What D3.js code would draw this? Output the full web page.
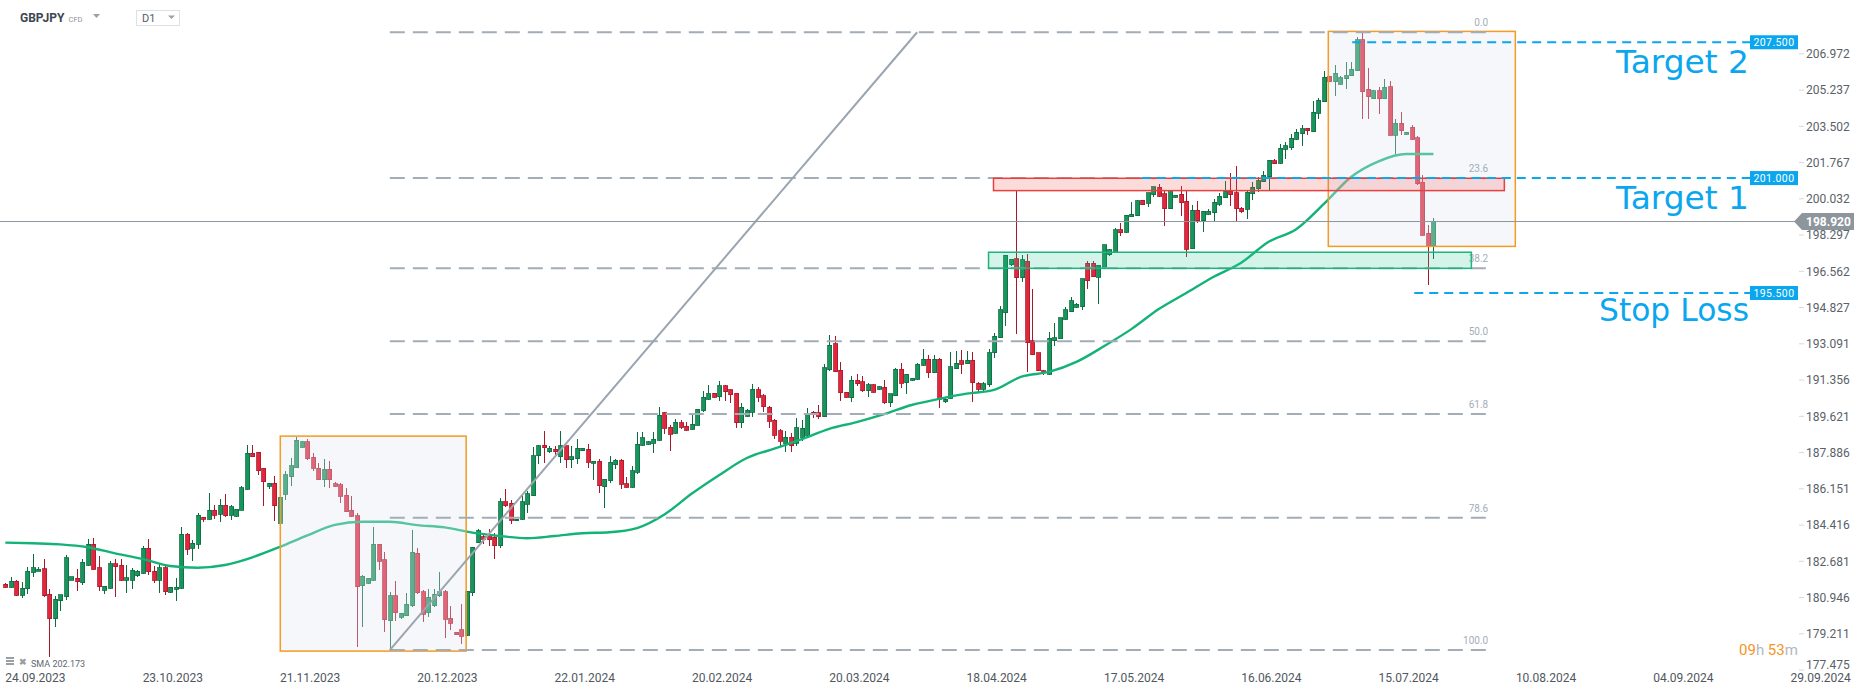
<!DOCTYPE html>
<html><head><meta charset="utf-8">
<script src="https://cdn.jsdelivr.net/npm/d3@7"></script>
<style>
html,body{margin:0;padding:0;background:#fff;overflow:hidden}
svg{display:block;font-family:Roboto,"Noto Sans",sans-serif}
</style></head><body>
<svg id="c" width="1866" height="695"></svg>
<script>
// ---------- DATA ----------
const dateLabels = ["24.09.2023","23.10.2023","21.11.2023","20.12.2023","22.01.2024","20.02.2024","20.03.2024","18.04.2024","17.05.2024","16.06.2024","15.07.2024","10.08.2024","04.09.2024","29.09.2024"];
const dateLabelBars = [0,25,50,75,100,125,150,175,200,225,250,275,300,325];
const yTickLabels = ["177.475","179.211","180.946","182.681","184.416","186.151","187.886","189.621","191.356","193.091","194.827","196.562","198.297","200.032","201.767","203.502","205.237","206.972"];

const open = [181.56,181.41,181.71,181.03,181.35,182.13,182.18,182.29,181.09,179.91,180.77,180.97,181.75,181.84,181.63,182.48,183.47,182.34,181.27,181.36,182.53,182.48,181.75,181.75,181.97,182.08,183.28,182.19,181.75,182.34,181.17,181.32,181.36,183.96,183.28,183.47,184.76,184.67,185.11,184.91,185.34,184.86,184.81,185.10,186.10,
187.84,187.87,187.11,186.25,186.39,184.47,185.86,186.71,187.14,188.11,188.37,187.63,187.11,186.56,187.06,186.36,186.31,185.83,185.11,184.84,181.49,181.60,181.76,183.47,182.72,179.82,181.00,179.98,180.06,180.53,183.04,181.20,180.20,180.53,181.01,181.20,179.93,179.27,179.37,179.13,181.16,183.55,183.84,183.95,183.81,
183.41,185.51,185.43,184.62,184.67,185.38,185.80,187.70,188.21,187.91,188.03,187.67,188.18,187.51,187.57,187.94,188.02,187.35,187.44,186.23,186.52,187.28,187.49,186.36,186.20,186.93,188.21,188.26,188.30,188.45,189.76,189.07,188.78,189.29,189.13,188.97,189.17,189.87,190.41,190.71,190.54,191.05,190.87,
190.70,189.29,189.60,189.80,190.86,190.57,190.03,189.42,188.90,188.30,188.60,188.30,188.60,188.70,189.80,189.77,189.58,191.83,193.06,191.81,190.75,190.49,191.33,191.24,190.82,191.11,190.89,190.98,190.25,190.59,191.86,191.21,191.32,191.37,192.04,192.34,191.69,192.34,190.30,190.46,191.88,192.26,192.12,192.28,
191.18,190.89,191.10,192.64,193.36,194.56,196.86,197.13,196.23,197.03,193.22,192.64,191.78,191.61,193.22,193.31,194.24,194.61,194.81,194.85,196.92,196.92,196.25,196.73,197.32,197.45,198.52,198.40,199.15,199.20,199.94,199.79,200.19,200.56,200.24,199.54,200.08,200.22,199.90,197.61,199.47,198.96,199.26,199.34,
199.74,200.06,200.38,200.29,199.55,199.50,200.24,200.48,200.83,201.07,201.82,201.70,202.38,202.45,202.85,203.13,203.38,203.22,204.10,204.66,205.87,205.61,205.49,205.76,205.90,206.14,207.61,205.25,204.80,205.17,204.80,205.36,203.06,203.62,203.09,203.44,202.92,200.81,198.37,197.75];
const high = [181.60,181.91,181.75,181.65,182.40,183.01,182.40,182.77,181.33,181.00,181.05,182.96,181.92,182.29,182.77,183.74,183.77,182.91,181.46,182.69,182.77,182.77,182.48,182.34,182.24,183.39,183.72,182.43,182.59,182.48,181.44,181.86,184.30,184.03,183.68,184.97,184.76,185.94,185.37,185.64,185.88,185.34,185.16,186.26,188.22,
188.22,187.90,187.11,186.42,186.74,186.07,186.98,187.62,188.62,188.42,188.51,187.84,187.35,187.54,187.44,186.47,186.39,186.15,185.77,184.97,182.00,181.87,184.28,183.49,183.10,181.19,181.72,180.20,181.12,184.16,183.31,181.28,181.32,181.32,182.13,181.28,180.52,179.29,180.61,181.25,183.36,184.22,184.00,184.20,184.00,
185.70,186.10,185.59,184.70,185.88,186.04,188.14,188.22,188.89,188.18,188.18,188.89,188.18,188.18,188.51,188.10,188.27,187.44,187.54,186.58,187.70,187.54,187.54,186.71,187.23,188.86,188.85,188.40,188.83,190.03,189.80,189.18,189.47,189.42,189.32,189.68,189.95,190.81,191.10,190.73,191.27,191.08,190.91,
190.73,190.25,189.95,191.13,190.98,190.65,190.09,189.45,189.00,188.90,188.80,189.52,189.42,190.00,189.84,190.12,192.10,193.47,193.44,192.18,190.78,191.54,191.62,191.53,191.19,191.13,191.05,191.33,190.67,191.91,192.13,191.62,191.45,192.13,192.82,192.55,192.55,192.37,190.45,192.68,192.72,192.79,192.74,192.68,
191.25,191.25,192.82,193.60,194.88,197.30,197.15,200.40,197.33,197.37,195.69,192.64,191.81,193.65,194.08,194.32,194.85,195.32,195.00,196.19,197.03,197.03,196.84,197.80,197.59,198.59,198.83,199.22,199.87,199.97,199.94,200.30,200.59,200.73,200.40,200.43,200.19,200.61,200.40,199.70,199.90,199.42,199.50,200.00,
200.30,200.88,201.23,201.58,199.60,200.40,200.80,201.04,201.35,201.85,201.91,202.61,202.74,203.11,203.35,203.54,203.38,204.69,204.82,206.12,205.90,206.41,205.89,206.57,206.54,207.77,207.93,206.25,205.20,205.37,205.74,205.65,203.83,204.16,203.22,203.54,203.01,201.15,198.74,199.09];
const low = [181.38,181.38,181.00,180.89,181.09,181.89,182.18,180.97,178.09,179.53,180.29,180.82,181.75,181.25,181.52,182.45,182.24,181.25,181.08,181.35,180.97,181.73,181.16,181.32,181.92,182.05,182.00,181.63,181.12,181.03,181.16,180.77,181.32,182.94,182.69,183.23,184.54,184.64,184.67,184.52,184.79,184.62,184.79,185.10,186.07,
187.63,186.79,185.30,186.10,184.60,184.44,185.59,186.28,187.11,188.10,187.51,187.00,186.56,186.23,186.18,186.23,185.46,185.02,184.79,178.57,179.53,181.57,181.73,182.24,179.29,178.41,179.80,179.88,180.04,180.49,181.08,179.77,180.01,180.49,180.96,179.00,179.37,179.13,178.70,179.08,181.01,183.52,183.49,183.39,182.75,
183.30,185.28,184.44,184.60,184.63,184.95,185.78,187.30,187.38,187.83,187.76,187.35,187.11,187.14,187.32,187.93,187.12,186.55,185.94,185.22,186.42,187.09,186.13,186.18,186.18,186.84,188.18,188.24,187.86,188.43,188.73,187.95,188.77,189.01,188.89,188.95,189.15,189.82,190.39,190.49,190.33,190.33,190.25,
189.02,189.02,189.55,189.58,190.30,189.79,189.02,188.50,188.20,187.90,187.90,188.20,188.40,188.60,189.50,189.47,189.55,191.78,191.70,190.35,190.48,190.30,191.06,190.75,190.54,190.70,190.86,190.17,190.03,190.57,190.97,190.65,191.30,191.33,192.02,191.45,191.66,189.98,190.25,190.43,191.85,191.64,192.09,190.30,
190.70,190.75,191.02,192.40,193.33,193.94,196.80,193.55,196.03,191.74,192.52,191.76,191.58,191.58,192.96,193.28,194.21,194.58,194.78,194.69,195.71,196.25,194.99,196.70,197.29,197.40,198.24,198.37,199.12,199.17,199.70,199.63,200.11,200.11,198.71,199.50,200.06,199.20,197.21,197.59,198.83,198.40,199.23,198.90,
199.66,200.03,199.66,198.90,199.35,199.04,199.95,200.35,200.80,200.43,201.66,201.67,201.93,202.34,202.82,202.55,203.06,203.19,203.83,204.63,205.58,204.94,205.45,205.26,205.87,206.11,203.81,203.81,204.78,204.08,204.77,203.01,202.07,203.06,203.06,202.82,200.67,198.24,195.87,197.14];
const close = [181.41,181.71,181.03,181.36,182.19,182.34,182.27,181.01,179.91,180.85,181.05,182.82,181.91,181.68,182.62,183.47,182.27,181.44,181.46,182.53,182.40,181.75,181.86,182.23,182.19,183.28,182.16,181.75,182.34,181.20,181.41,181.41,183.95,183.23,183.53,184.86,184.67,185.10,184.86,185.34,184.83,185.26,185.16,186.17,187.84,
187.67,187.00,186.47,186.39,185.32,185.72,186.79,187.22,188.46,188.37,187.57,187.11,186.56,187.06,186.56,186.25,185.77,185.03,184.81,181.44,181.95,181.84,183.47,182.67,179.85,181.00,180.20,180.17,180.61,183.09,181.16,180.12,180.93,181.09,181.20,179.88,179.69,179.15,179.08,181.22,183.33,184.12,183.71,183.68,183.41,
185.51,185.32,184.63,184.68,185.50,185.88,187.70,188.18,188.10,188.08,187.91,188.18,187.51,187.65,188.08,188.08,187.40,187.44,186.28,186.58,187.40,187.49,186.34,186.20,186.99,188.26,188.57,188.37,188.50,189.64,189.02,188.75,189.32,189.07,188.94,189.21,189.93,190.51,190.67,190.51,191.05,190.78,190.63,
189.29,190.03,189.88,190.89,190.50,190.06,189.36,188.70,188.40,188.60,188.20,189.05,189.02,189.74,189.66,189.58,191.91,192.99,191.73,190.73,190.50,191.33,191.16,190.82,191.10,190.76,191.02,190.25,190.67,191.86,191.19,191.62,191.42,192.10,192.34,191.69,192.34,190.41,190.41,191.96,192.13,192.10,192.28,191.21,
190.89,191.15,192.63,193.44,194.69,197.30,197.11,196.23,197.08,193.12,192.55,191.78,191.69,193.33,193.35,194.32,194.69,195.12,194.97,196.19,196.09,196.28,196.82,197.80,197.56,198.52,198.39,199.22,199.26,199.92,199.73,200.30,200.59,200.13,199.54,200.40,200.17,199.82,197.59,199.47,198.96,199.42,199.42,199.84,
200.14,200.38,200.21,199.54,199.39,200.32,200.57,200.88,201.13,201.85,201.69,202.42,202.55,202.90,203.19,203.35,203.27,204.15,204.72,205.82,205.61,206.01,205.79,205.89,206.20,207.61,205.14,204.90,205.17,204.80,205.34,203.06,203.62,203.27,203.19,202.85,200.73,198.27,197.75,198.92];

const smaBars = [0,5,10,15,20,25,30,35,40,45,50,55,60,65,70,75,80,85,90,95,100,105,110,115,120,125,130,135,140,145,150,155,160,165,170,175,180,185,190,195,200,205,210,215,220,225,230,235,240,245,250,255,260];
const smaValues = [183.55,183.52,183.47,183.33,183.04,182.77,182.43,182.35,182.48,182.85,183.35,183.90,184.40,184.55,184.55,184.39,184.28,184.03,183.87,183.76,183.87,184.00,184.05,184.25,184.90,185.90,186.79,187.60,188.05,188.50,189.00,189.32,189.70,190.14,190.43,190.68,190.86,191.50,191.72,192.20,192.95,193.77,194.73,195.50,196.28,196.95,197.95,198.55,199.75,201.05,201.80,202.15,202.15];

const fibLevels = ["0.0","23.6","38.2","50.0","61.8","78.6","100.0"];
const fibRatios = [0,0.236,0.382,0.5,0.618,0.786,1];
const fibLowPrice = 178.41, fibHighPrice = 207.98;
const fibStartBar = 70, fibTopBar = 166, fibEndBar = 269.6;

const boxBars = [[50.06,83.9],[240.85,274.9]];
const boxPrices = [[178.36,188.65],[197.73,208.02]];
const zoneBars = [[179.9,272.9],[179.0,266.9]];
const zonePrices = [[200.40,200.99],[196.68,197.45]];

const targetNames = ["Target 2","Target 1","Stop Loss"];
const targetPrices = [207.5,201.0,195.5];
const targetStartBars = [245.2,206.9,256.5];
const lastPrice = 198.92;
const smaLabel = "SMA 202.173";

// ---------- SCALES ----------
const svg = d3.select("#c");
const x = d3.scaleLinear().domain([0,325]).range([5.3, 5.3+325*5.493]);
const y = d3.scaleLinear().domain([177.455,209.523]).range([670,0]);

const bars = open.map((o,i)=>({i,o,h:high[i],l:low[i],c:close[i]}));
const UP = "#17955c", UPD = "#0c6a3f", DN = "#e2263c", DND = "#a8182a";

// candles
const cg = svg.append("g").attr("shape-rendering","crispEdges");
cg.selectAll("line.w").data(bars).join("line")
  .attr("x1",d=>Math.round(x(d.i))+0.5).attr("x2",d=>Math.round(x(d.i))+0.5)
  .attr("y1",d=>y(d.h)).attr("y2",d=>y(d.l))
  .attr("stroke",d=>d.c>=d.o?UPD:DND).attr("stroke-width",1);
cg.selectAll("rect.b").data(bars).join("rect")
  .attr("x",d=>Math.round(x(d.i))-1.5).attr("width",4)
  .attr("y",d=>y(Math.max(d.o,d.c)))
  .attr("height",d=>Math.max(1.5,Math.abs(y(d.o)-y(d.c))))
  .attr("fill",d=>d.c>=d.o?UP:DN)
  .attr("stroke",d=>d.c>=d.o?UPD:DND).attr("stroke-width",0.8);

// SMA
svg.append("path").datum(smaBars.map((b,k)=>[b,smaValues[k]]))
  .attr("fill","none").attr("stroke","#13b377").attr("stroke-width",2.4)
  .attr("d",d3.line().x(d=>x(d[0])).y(d=>y(d[1])).curve(d3.curveMonotoneX));

// boxes (semi-transparent overlays)
boxBars.forEach((b,k)=>{
  svg.append("rect").attr("x",x(b[0])).attr("width",x(b[1])-x(b[0]))
    .attr("y",y(boxPrices[k][1])).attr("height",y(boxPrices[k][0])-y(boxPrices[k][1]))
    .attr("fill","rgba(226,231,239,0.33)").attr("stroke","#f59a23").attr("stroke-width",1.5);
});

// fibonacci
const fibG = svg.append("g");
fibRatios.forEach((r,k)=>{
  const p = fibHighPrice - r*(fibHighPrice-fibLowPrice);
  fibG.append("line").attr("x1",x(fibStartBar)).attr("x2",x(fibEndBar))
    .attr("y1",y(p)).attr("y2",y(p))
    .attr("stroke","#a3adb7").attr("stroke-width",2).attr("stroke-dasharray","15,8");
  fibG.append("text").attr("x",x(fibEndBar)+2).attr("y",y(p)-6)
    .attr("text-anchor","end").attr("font-size",10).attr("fill","#a3adb7").text(fibLevels[k]);
});
fibG.append("line").attr("x1",x(fibStartBar)).attr("y1",y(fibLowPrice))
  .attr("x2",x(fibTopBar)).attr("y2",y(fibHighPrice))
  .attr("stroke","#9aa5b0").attr("stroke-width",2);

// zones
const zoneFill = ["rgba(240,90,90,0.22)","rgba(40,200,150,0.2)"];
const zoneStroke = ["#e8403f","#1db57e"];
zoneBars.forEach((b,k)=>{
  svg.append("rect").attr("x",x(b[0])).attr("width",x(b[1])-x(b[0]))
    .attr("y",y(zonePrices[k][1])).attr("height",y(zonePrices[k][0])-y(zonePrices[k][1]))
    .attr("fill",zoneFill[k]).attr("stroke",zoneStroke[k]).attr("stroke-width",1.5);
});

// last price line
svg.append("line").attr("x1",0).attr("x2",1795).attr("y1",y(lastPrice)).attr("y2",y(lastPrice))
  .attr("stroke","#8e979e").attr("stroke-width",1);

// targets
const BLUE = "#0aa6ee";
const targetTextWidths = [133,133,150];
targetPrices.forEach((p,k)=>{
  const yy = y(p);
  svg.append("line").attr("x1",x(targetStartBars[k])).attr("x2",1750).attr("y1",yy).attr("y2",yy)
    .attr("stroke",BLUE).attr("stroke-width",2).attr("stroke-dasharray","9,6");
  svg.append("rect").attr("x",1750).attr("y",yy-7).attr("width",48).attr("height",14).attr("fill",BLUE);
  svg.append("text").attr("x",1774).attr("y",yy+4).attr("text-anchor","middle")
    .attr("font-size",10.5).attr("fill","#fff").attr("letter-spacing",0.4).text(d3.format(".3f")(p));
  svg.append("text").attr("x",1749).attr("y",yy+(k==2?28:30.5)).attr("text-anchor","end")
    .attr("font-family","DejaVu Sans").attr("font-size",31.5).attr("fill",BLUE)
    .attr("textLength",targetTextWidths[k]).attr("lengthAdjust","spacingAndGlyphs").text(targetNames[k]);
});

// y axis
const yAxis = d3.axisRight(y).tickValues(yTickLabels.map(Number)).tickFormat(d3.format(".3f"))
  .tickSize(5).tickPadding(2);
const ya = svg.append("g").attr("transform","translate(1799,0)").call(yAxis);
ya.select(".domain").remove();
ya.selectAll("line").attr("stroke","#d5d8db");
ya.selectAll("text").attr("font-size",12).attr("fill","#5a6168").attr("font-family","Roboto")
  .attr("dy","0.36em");
ya.selectAll(".tick").filter(d=>d<178).select("text").attr("y",-5);

// last price tag
const ly = y(lastPrice);
svg.append("path").attr("d",`M1794,${ly} L1802,${ly-8.5} L1854,${ly-8.5} L1854,${ly+8.5} L1802,${ly+8.5} Z`)
  .attr("fill","#8d969d");
svg.append("text").attr("x",1806).attr("y",ly+4.5).attr("font-size",12).attr("font-weight","bold")
  .attr("fill","#fff").text(d3.format(".3f")(lastPrice));

// x axis
const xAxis = d3.axisBottom(x).tickValues(dateLabelBars).tickFormat((d,i)=>dateLabels[i]).tickSize(0).tickPadding(0);
const xa = svg.append("g").attr("transform","translate(0,672)").call(xAxis);
xa.select(".domain").remove();
xa.selectAll("text").attr("text-anchor","start").attr("dx",-0.5).attr("dy","0.8em")
  .attr("font-size",12).attr("fill","#50575e").attr("font-family","Roboto");

// header
svg.append("text").attr("x",20).attr("y",22).attr("font-size",12).attr("font-weight","bold").attr("fill","#3c4650").text("GBPJPY");
svg.append("text").attr("x",68.5).attr("y",22).attr("font-size",7.5).attr("fill","#8c939a").text("CFD");
svg.append("path").attr("d","M93,14 L100,14 L96.5,18 Z").attr("fill","#9aa1a8");
svg.append("rect").attr("x",136.5).attr("y",10.5).attr("width",43).attr("height",15).attr("fill","#fff").attr("stroke","#dde0e4");
svg.append("text").attr("x",142).attr("y",22).attr("font-size",11).attr("fill","#555c63").text("D1");
svg.append("path").attr("d","M168,15.5 L175,15.5 L171.5,19 Z").attr("fill","#9aa1a8");

// bottom-left indicator legend
svg.append("rect").attr("x",6).attr("y",657).attr("width",8).attr("height",2).attr("fill","#9a9fa4");
svg.append("rect").attr("x",6).attr("y",660).attr("width",8).attr("height",2).attr("fill","#9a9fa4");
svg.append("rect").attr("x",6).attr("y",663).attr("width",8).attr("height",2).attr("fill","#9a9fa4");
svg.append("text").attr("x",19).attr("y",665).attr("font-size",9).attr("font-weight","bold").attr("fill","#9a9fa4").text("✖");
svg.append("text").attr("x",31).attr("y",667).attr("font-size",9).attr("fill","#60676e").text(smaLabel);

// countdown
const cd = svg.append("text").attr("x",1739).attr("y",655).attr("font-size",15);
cd.append("tspan").attr("fill","#f7941d").text("09");
cd.append("tspan").attr("fill","#b3b8bd").text("h ");
cd.append("tspan").attr("fill","#f7941d").text("53");
cd.append("tspan").attr("fill","#b3b8bd").text("m");
</script>
</body></html>
